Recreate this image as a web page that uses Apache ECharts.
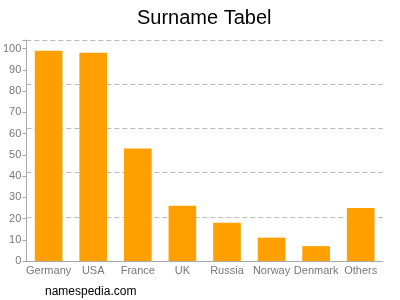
<!DOCTYPE html>
<html><head><meta charset="utf-8">
<script src="https://cdn.jsdelivr.net/npm/echarts@6/dist/echarts.min.js"></script>
<style>html,body{margin:0;padding:0;background:#fff}#c{width:400px;height:300px}</style>
</head><body><div id="c"></div>
<script>
const categories = ['Germany','USA','France','UK','Russia','Norway','Denmark','Others'];
const values = [99, 98, 53, 26, 18, 11, 7, 25];
const tickLabels = [0,10,20,30,40,50,60,70,80,90,100];
const yMax = 104;

const chart = echarts.init(document.getElementById('c'), null, {renderer:'canvas'});
chart.setOption({
  animation:false,
  title:{text:'Surname Tabel', left:132, top:3,
    textStyle:{fontFamily:'Liberation Sans', fontSize:20, fontWeight:'normal', color:'#000'}},
  graphic:[{type:'text', left:45, top:286, style:{text:'namespedia.com', font:'12px "Liberation Sans"', fill:'#000'}}],
  grid:{left:25, right:17, top:40, bottom:39},
  xAxis:{type:'category', data:categories,
    axisLine:{lineStyle:{color:'#aaa'}},
    axisTick:{alignWithLabel:true, length:3, lineStyle:{color:'#aaa'}},
    axisLabel:{color:'#777', fontFamily:'Liberation Sans', fontSize:11, margin:4, interval:0}},
  yAxis:[{type:'value', min:0, max:yMax, interval:10,
    axisLine:{show:true, lineStyle:{color:'#aaa'}},
    axisTick:{show:true, length:4, lineStyle:{color:'#aaa'}},
    splitLine:{show:false},
    axisLabel:{color:'#777', fontFamily:'Liberation Sans', fontSize:11, margin:5,
      customValues:tickLabels}},
   {type:'value', min:0, max:yMax, interval:yMax/5, position:'left',
    axisLine:{show:false}, axisTick:{show:false}, axisLabel:{show:false},
    splitLine:{show:true, lineStyle:{color:'#bbb', type:[5,3]}}}],
  series:[{type:'bar', data:values, barWidth:'62%', yAxisIndex:0,
    itemStyle:{color:'#ffa000'}}]
});
</script></body></html>
